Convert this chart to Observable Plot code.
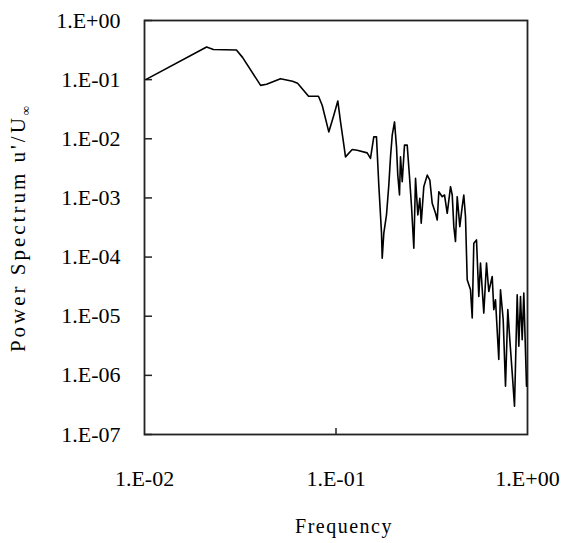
<!DOCTYPE html>
<html><head><meta charset="utf-8">
<script src="https://cdn.jsdelivr.net/npm/d3@7"></script>
<script src="https://cdn.jsdelivr.net/npm/@observablehq/plot@0.6"></script>
<style>html,body{margin:0;padding:0;background:#fff;}</style>
</head><body><div id="chart"></div>
<script>
const frequency = [0.0102,0.0211,0.0229,0.0302,0.0325,0.0404,0.0434,0.0513,0.0593,0.0630,
0.0719,0.0810,0.0847,0.0917,0.0974,0.1022,0.1056,0.1090,0.1121,0.1215,
0.1290,0.1455,0.1514,0.1575,0.1627,0.1673,0.1728,0.1743,0.1777,0.1835,
0.1887,0.1926,0.1966,0.2021,0.2070,0.2102,0.2146,0.2172,0.2217,0.2279,
0.2354,0.2420,0.2480,0.2549,0.2602,0.2675,0.2740,0.2786,0.2874,0.2995,
0.3090,0.3180,0.3309,0.3378,0.3443,0.3587,0.3688,0.3809,0.3963,0.4045,
0.4124,0.4207,0.4295,0.4431,0.4560,0.4649,0.4745,0.4843,0.5040,0.5144,
0.5243,0.5416,0.5568,0.5683,0.5913,0.6108,0.6279,0.6542,0.6668,0.6806,
0.7081,0.7228,0.7466,0.7676,0.7891,0.8084,0.8320,0.8553,0.8835,0.9008,
0.9194,0.9383,0.9565,0.9881];
const power = [0.101,0.357,0.324,0.318,0.238,0.0801,0.0833,0.1039,0.0936,0.0866,
0.0523,0.0523,0.0369,0.01307,0.0250,0.0436,0.01928,0.00947,0.00495,0.00660,
0.00642,0.00578,0.00465,0.01077,0.01077,0.00165,0.000259,0.0000958,0.000253,0.000515,
0.00165,0.00495,0.0115,0.01928,0.00730,0.00243,0.00112,0.00495,0.00188,0.00780,
0.00780,0.00228,0.000711,0.000141,0.00214,0.000515,0.000985,0.000373,0.00155,0.00243,
0.00200,0.000811,0.000550,0.000424,0.00127,0.00105,0.00112,0.000550,0.00155,0.00112,
0.000327,0.000183,0.00105,0.000327,0.000711,0.00112,0.000482,0.0000413,0.0000280,0.00000933,
0.000172,0.000195,0.0000216,0.0000789,0.0000113,0.0000789,0.0000262,0.0000469,0.0000129,0.0000190,
0.00000185,0.0000280,0.00000873,0.000000655,0.0000129,0.00000402,0.00000110,0.000000301,0.0000231,0.00000310,
0.0000216,0.00000402,0.0000246,0.000000655];
const xTicks = [0.01, 0.1, 1];
const xInnerTicks = [0.1];
const yTicks = [1, 1e-1, 1e-2, 1e-3, 1e-4, 1e-5, 1e-6, 1e-7];
const xTitle = "Frequency";
const yTitle = "Power Spectrum u'/U";
const ySub = "\u221E";

const data = frequency.map((f, i) => ({f, p: power[i]}));
const fmt = d => {
  const e = Math.round(Math.log10(d));
  return "1.E" + (e < 0 ? "-" : "+") + String(Math.abs(e)).padStart(2, "0");
};
const serif = "'Liberation Serif', 'Times New Roman', serif";

const chart = Plot.plot({
  width: 562, height: 543,
  marginLeft: 144, marginRight: 35, marginTop: 20, marginBottom: 109,
  style: {fontFamily: serif, background: "#fff", color: "#000"},
  x: {type: "log", domain: [0.01, 1]},
  y: {type: "log", domain: [1e-7, 1]},
  marks: [
    Plot.axisY(yTicks, {tickSize: -8, tickFormat: () => "", label: null, strokeWidth: 1.5, stroke: "#222"}),
    Plot.axisY(yTicks, {tickSize: 0, tickPadding: 24, tickFormat: fmt, fontSize: 22, label: null}),
    Plot.axisX(xInnerTicks, {tickSize: -6, tickFormat: () => "", label: null, strokeWidth: 1.5, stroke: "#222"}),
    Plot.axisX(xTicks, {tickSize: 0, tickPadding: 36, tickFormat: fmt, fontSize: 22, label: null}),
    Plot.frame({stroke: "#222", strokeWidth: 1.8}),
    Plot.line(data, {x: "f", y: "p", stroke: "#000", strokeWidth: 1.6}),
    Plot.text([xTitle], {frameAnchor: "bottom", dx: 8, dy: 98, fontSize: 20}),
    Plot.text([yTitle], {frameAnchor: "left", textAnchor: "middle", dx: -126, rotate: -90, fontSize: 21})
  ]
});
document.getElementById("chart").appendChild(chart);
d3.select(chart).selectAll("text").each(function() {
  if (this.textContent === yTitle) {
    const t = d3.select(this);
    t.text(null).style("letter-spacing", "3px");
    t.append("tspan").text(yTitle);
    t.append("tspan").attr("dy", "0.35em").attr("font-size", "13").text(ySub);
  } else if (this.textContent === xTitle) {
    d3.select(this).style("letter-spacing", "1.5px");
  }
});
</script>
</body></html>
